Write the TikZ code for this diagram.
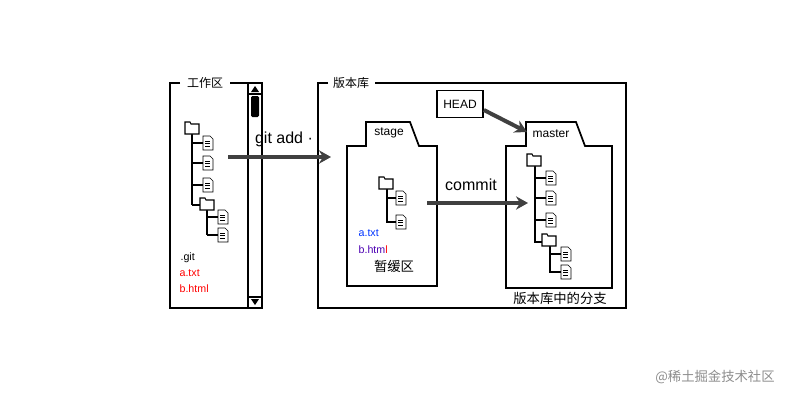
\documentclass[tikz,border=0pt]{standalone}
\usepackage{fontspec}
\setmainfont{Liberation Sans}
\newfontfamily\cjk{Noto Sans CJK SC}
\usetikzlibrary{arrows.meta}
\tikzset{
 frame/.style={draw=black,line width=1.3pt},
 big/.style={draw=black!75,line width=3pt,-{Stealth[length=9pt,width=10pt]}},
 lbl/.style={inner sep=1pt,font=\small},
 tree/.style={line width=1.6pt,black},
 pics/folder/.style={code={\draw[thick,fill=white] (-7,-4)--(-7,-6)--(-2,-6)--(-1,-4)--(7,-4)--(7,6)--(-7,6)--cycle;}},
 pics/file/.style={code={\draw[thin,fill=white] (-5,-7)--(2,-7)--(5,-4)--(5,7)--(-5,7)--cycle;
   \draw[very thin] (-3,-2)--(2,-2) (-3,0.5)--(2,0.5) (-3,3)--(2,3);}}
}
\begin{document}
\begin{tikzpicture}[x=0.75pt,y=-0.75pt]
\useasboundingbox (0,0) rectangle (800,400);
% workspace
\draw[frame] (180,83)--(170,83)--(170,308)--(262,308)--(262,83)--(230,83);
\node[lbl,font=\cjk\small] (ws) at (205,83) {工作区};
\draw[frame] (248,83)--(248,308);
\draw[thick] (248,94)--(262,94) (248,297)--(262,297);
\fill (255,86)--(251,92)--(259,92)--cycle;
\fill (255,305)--(251,299)--(259,299)--cycle;
\fill[rounded corners=1pt] (251,96) rectangle (259,117);
% repo
\draw[frame] (328,83)--(318,83)--(318,308)--(626,308)--(626,83)--(375,83);
\node[lbl,font=\cjk\small] (repo) at (351,83) {版本库};
\node[draw,line width=1.3pt,minimum width=46pt*0.75,minimum height=27pt*0.75,font=\small] (head) at (460,104) {HEAD};
% stage folder
\draw[frame] (366,146)--(366,122)--(410,122)--(419,146)--(437,146)--(437,286)--(347,286)--(347,146)--cycle;
\node[lbl] (stage) at (389,133) {stage};
% master folder
\draw[frame] (526,146)--(526,122)--(576,122)--(585,146)--(612,146)--(612,288)--(506,288)--(506,146)--cycle;
\node[lbl] (master) at (551,134) {master};
\node[lbl,font=\cjk\normalsize] (branch) at (560,298) {版本库中的分支};
% arrows
\coordinate (a1) at (228,157); \coordinate (a2) at (331,157);
\draw[big] (a1)--(a2);
\node[font=\large,inner sep=1pt] (gitadd) at (284,139) {git add ·};
\coordinate (c1) at (427,203); \coordinate (c2) at (528,203);
\draw[big] (c1)--(c2);
\node[lbl,font=\large] (commit) at (471,185) {commit};
\coordinate (h2) at (527,132);
\draw[big] (head.east |- 0,110)--(h2);
% texts
\node[lbl,font=\footnotesize,anchor=west] (git) at (179,258) {.git};
\node[lbl,font=\footnotesize,anchor=west,text=red] (at1) at (178,273) {a.txt};
\node[lbl,font=\footnotesize,anchor=west,text=red] (bh1) at (178,289) {b.html};
\node[lbl,font=\footnotesize,anchor=west,text=blue!80!cyan] (at2) at (357,233) {a.txt};
\node[lbl,font=\footnotesize,anchor=west,text=blue!70!red] (bh2) at (357,250) {b.htm\textcolor{red}{l}};
\node[lbl,font=\cjk\normalsize] (zh) at (394,266) {暂缓区};
\node[font=\cjk\normalsize,text=black!45] (wm) at (715,377) {@稀土掘金技术社区};
% left tree
\draw[tree] (192,133)--(192,205) (192,143)--(204,143) (192,163)--(204,163) (192,185)--(204,185) (192,205)--(202,205);
\draw[tree] (207,210)--(207,235) (207,217)--(218,217) (207,235)--(218,235);
\pic at (192,128) {folder}; \pic at (208,143) {file}; \pic at (208,163) {file}; \pic at (208,185) {file};
\pic at (207,204) {folder}; \pic at (223,217) {file}; \pic at (223,235) {file};
% stage tree
\draw[tree] (387,188)--(387,222)--(397,222) (387,198)--(397,198);
\pic at (386,183) {folder}; \pic at (401,198) {file}; \pic at (401,222) {file};
% master tree
\draw[tree] (535,165)--(535,242)--(543,242) (535,178)--(547,178) (535,198)--(547,198) (535,220)--(547,220);
\draw[tree] (550,246)--(550,272)--(562,272) (550,254)--(562,254);
\pic at (534,160) {folder}; \pic at (551,178) {file}; \pic at (551,198) {file}; \pic at (551,220) {file};
\pic at (549,240) {folder}; \pic at (566,254) {file}; \pic at (566,272) {file};
\end{tikzpicture}
\end{document}
